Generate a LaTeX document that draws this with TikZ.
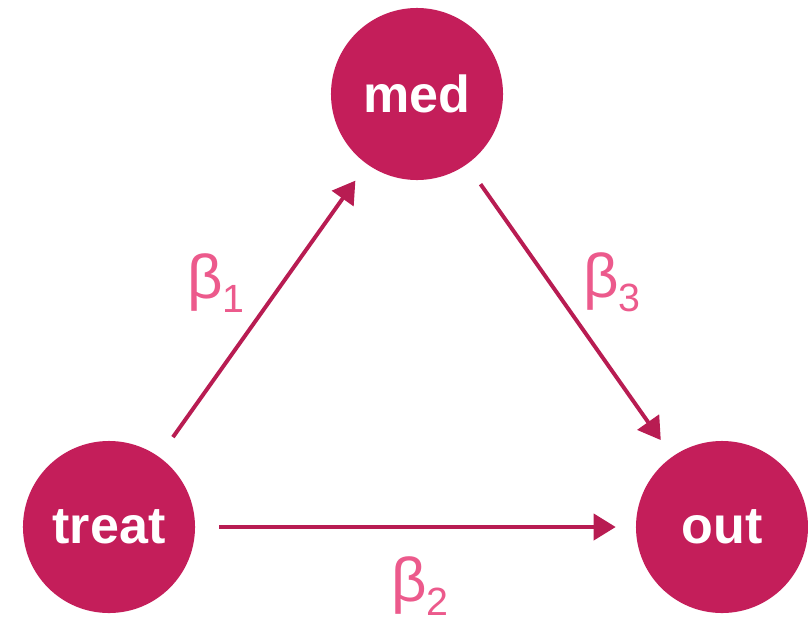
\documentclass[tikz,border=0pt]{standalone}
\usepackage{fontspec}
\setmainfont{Liberation Sans}
\usetikzlibrary{arrows.meta}
\definecolor{berry}{RGB}{196,30,90}
\definecolor{arrowred}{RGB}{184,28,82}
\definecolor{betapink}{RGB}{236,90,140}
\newcommand{\coefsym}[1]{{\fontsize{44}{52}\selectfont β\raisebox{-10pt}{\fontsize{28}{33}\selectfont #1}}}
\begin{document}
\begin{tikzpicture}[x=0.025cm, y=-0.025cm,
  var/.style={circle, fill=berry, minimum size=4.3cm, inner sep=0pt, text=white, font=\fontsize{37}{44}\selectfont\bfseries},
  effect/.style={draw=arrowred, line width=2.8pt, -{Triangle[length=0.55cm,width=0.65cm]}, shorten <=0.6cm, shorten >=0.5cm},
  coef/.style={text=betapink, inner sep=0pt}]
\useasboundingbox (0,0) rectangle (808,625);
% variables
\node[var] (treat) at (109,527) {treat};
\node[var] (med) at (417,94) {med};
\node[var] (out) at (722,527) {out};
% paths
\draw[effect] (treat) -- (med);
\draw[effect] (med) -- (out);
\draw[effect] (treat) -- (out);
% coefficients
\node[coef] (b1) at (216,283) {\coefsym{1}};
\node[coef] (b3) at (612,282) {\coefsym{3}};
\node[coef] (b2) at (420,586) {\coefsym{2}};
\end{tikzpicture}
\end{document}
